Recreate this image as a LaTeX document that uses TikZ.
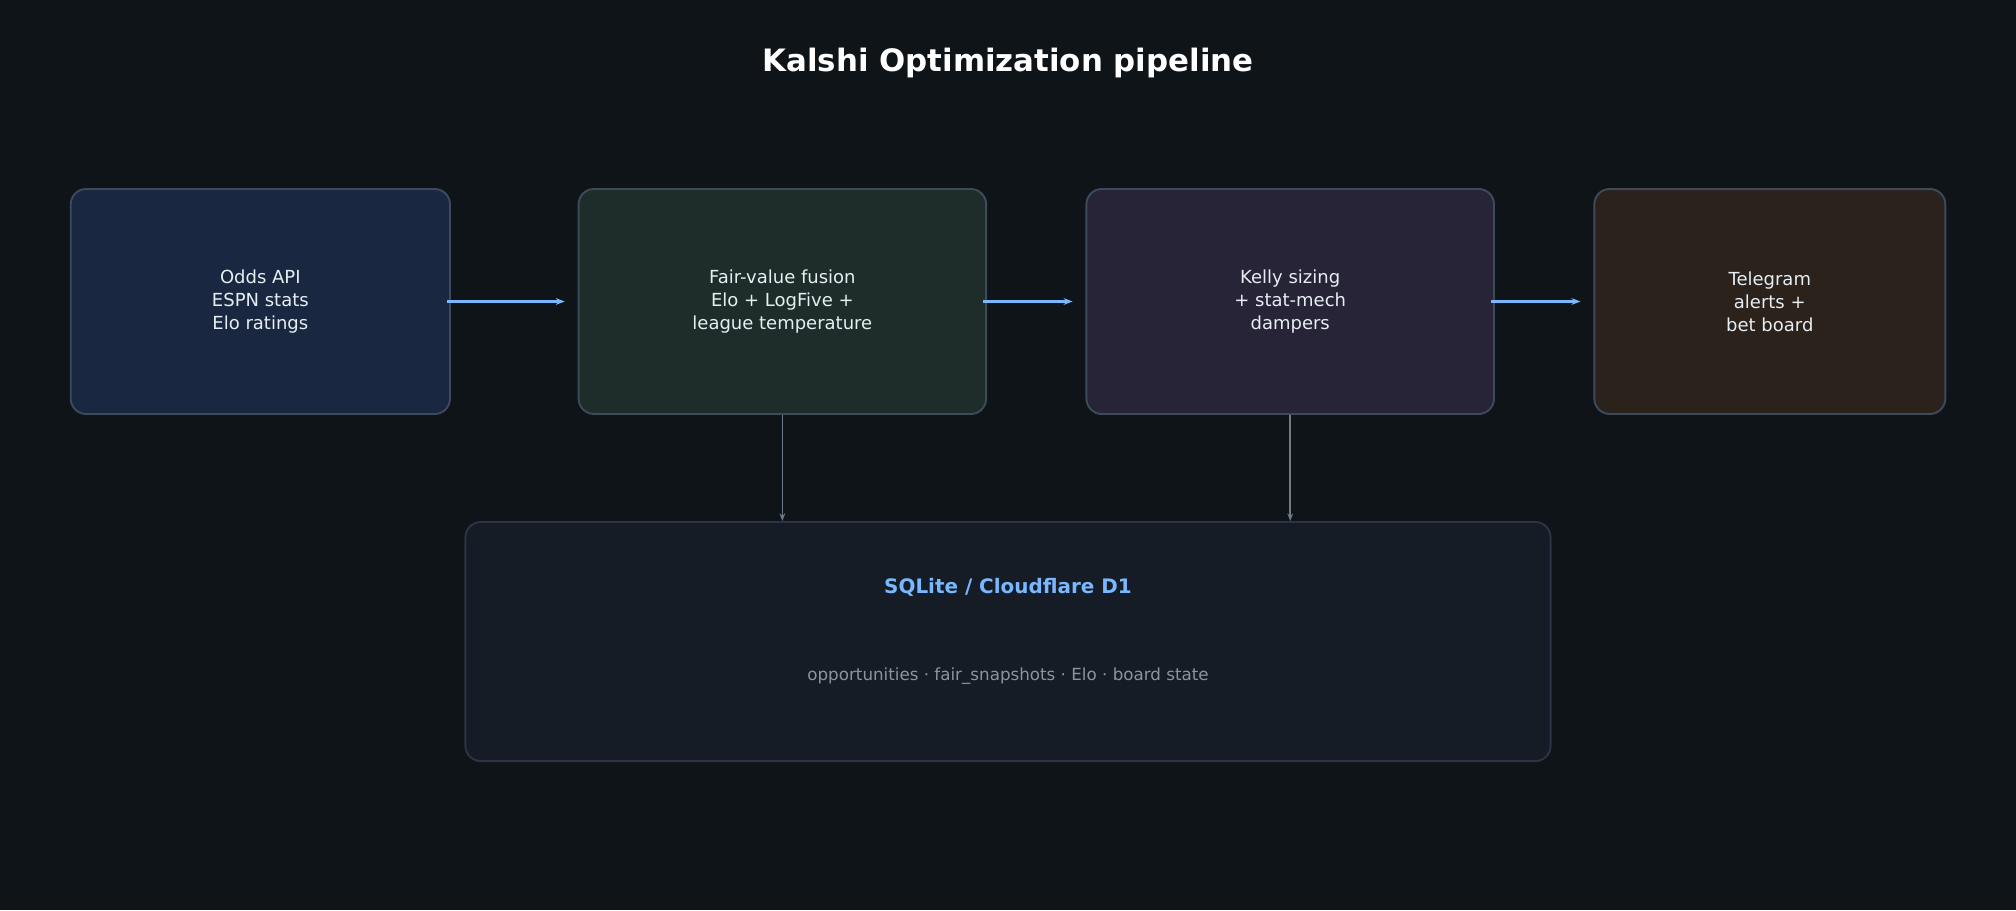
\documentclass[tikz,border=0pt]{standalone}
\usepackage{fontspec}
\setmainfont{DejaVu Sans}
\definecolor{bgdark}{HTML}{0F1419}
\definecolor{edgegray}{HTML}{3D4A5C}
\definecolor{dbedge}{HTML}{2A3444}
\definecolor{dbfill}{HTML}{161C26}
\definecolor{flowblue}{HTML}{79B8FF}
\definecolor{linkgray}{HTML}{6E7A88}
\definecolor{textwhite}{HTML}{E6EDF3}
\definecolor{subgray}{HTML}{8B949E}
\definecolor{srcblue}{HTML}{1A2740}
\definecolor{fusegreen}{HTML}{1E2D2A}
\definecolor{kellypurple}{HTML}{272438}
\definecolor{alertbrown}{HTML}{2A221B}
\usetikzlibrary{arrows.meta}
\tikzset{
  stage/.style={draw=edgegray, line width=1.5pt, rounded corners=12pt, align=center,
    text=textwhite, font=\fontsize{14}{18}\selectfont, minimum height=175pt, inner sep=0pt},
  flow/.style={-{Stealth[length=7pt]}, flowblue, line width=2pt},
  store/.style={-{Stealth[length=6pt]}, linkgray, line width=1.3pt}
}
\begin{document}
\begin{tikzpicture}[x=1pt, y=-1pt]
        \fill[bgdark] (0,0) rectangle (1568,708);
        \useasboundingbox (0,0) rectangle (1568,708);
        \node[text=white, font=\fontsize{24}{28}\selectfont\bfseries]
          (TTL) at (784, 49) {Kalshi Optimization pipeline};
        \node[stage, fill=srcblue, minimum width=295pt]
          (SRC) at (202.5, 234.5) {Odds API\\ESPN stats\\Elo ratings};
        \node[stage, fill=fusegreen, minimum width=317pt]
          (FUS) at (608.5, 234.5) {Fair-value fusion\\Elo + LogFive +\\league temperature};
        \node[stage, fill=kellypurple, minimum width=317pt]
          (KEL) at (1003.5, 234.5) {Kelly sizing\\+ stat-mech\\dampers};
        \node[stage, fill=alertbrown, minimum width=273pt]
          (TGM) at (1376.5, 234.5) {Telegram\\alerts +\\bet board};
        \node[draw=dbedge, fill=dbfill, line width=1.5pt, rounded corners=12pt,
          minimum width=844pt, minimum height=186pt]
          (DB) at (784, 499) {};
        \node[text=flowblue, font=\fontsize{15.5}{18}\selectfont\bfseries]
          (DBT) at (784, 457) {SQLite / Cloudflare D1};
        \node[text=subgray, font=\fontsize{13}{16}\selectfont]
          (DBS) at (784, 526) {opportunities · fair\_snapshots · Elo · board state};
        \draw[flow] (SRC.east) ++(-3,0) coordinate (a1) (a1) -- ([xshift=-10pt]FUS.west);
        \draw[flow] ([xshift=-3pt]FUS.east) -- ([xshift=-10pt]KEL.west);
        \draw[flow] ([xshift=-3pt]KEL.east) -- ([xshift=-10pt]TGM.west);
        \draw[store] (FUS.south) -- (FUS.south |- DB.north);
        \draw[store] (KEL.south) -- (KEL.south |- DB.north);
      \end{tikzpicture}
\end{document}
